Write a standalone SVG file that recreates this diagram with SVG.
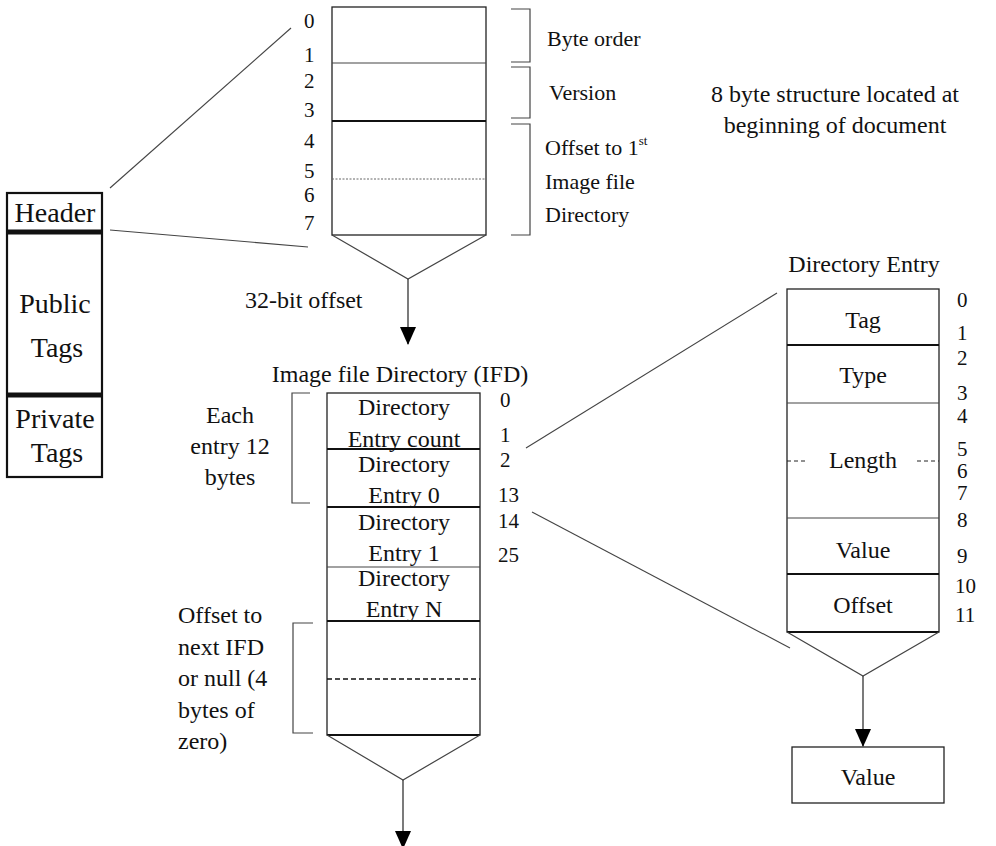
<svg xmlns="http://www.w3.org/2000/svg" width="996" height="846" viewBox="0 0 996 846" font-family="'Liberation Serif', 'DejaVu Serif', serif">
<style>
svg text{font-family:"Liberation Serif","DejaVu Serif",serif;fill:#111}
.b{font-size:24px}
.d{font-size:21px}
.h{font-size:22px}
.L{font-size:28px}
.m{text-anchor:middle}
.box{fill:#fff;stroke:#222;stroke-width:1.3}
.thin{stroke:#444;stroke-width:1.2;fill:none}
.thick{stroke:#111;stroke-width:2.2;fill:none}
.conn{stroke:#444;stroke-width:1.1;fill:none}
.brk{stroke:#444;stroke-width:1.2;fill:none}
</style>
<defs>
<marker id="ah" markerUnits="userSpaceOnUse" markerWidth="18" markerHeight="22" refX="17" refY="8" orient="auto">
<path d="M0,0 L18,8 L0,16 Z" fill="#000"/>
</marker>
</defs>

<g id="file-layout">
<rect x="7" y="193" width="95" height="284" fill="#fff" stroke="#111" stroke-width="2.2"/>
<line x1="7" y1="232" x2="102" y2="232" stroke="#111" stroke-width="5"/>
<line x1="7" y1="395" x2="102" y2="395" stroke="#111" stroke-width="5"/>
<text class="L m" x="55" y="222">Header</text>
<text class="L m" x="55" y="313">Public</text>
<text class="L m" x="57" y="357">Tags</text>
<text class="L m" x="55" y="428">Private</text>
<text class="L m" x="57" y="462">Tags</text>
</g>

<g id="header-structure">
<rect class="box" x="332" y="7" width="154" height="228"/>
<line class="thin" x1="332" y1="63" x2="486" y2="63"/>
<line class="thick" x1="332" y1="121" x2="486" y2="121"/>
<line x1="332" y1="179" x2="486" y2="179" stroke="#666" stroke-width="1" stroke-dasharray="2,1.5"/>
<polyline class="thin" points="332,235 408,279 486,235"/>
<g class="d">
<text x="304" y="28">0</text>
<text x="304" y="62">1</text>
<text x="304" y="88">2</text>
<text x="304" y="117">3</text>
<text x="304" y="148">4</text>
<text x="304" y="178">5</text>
<text x="304" y="202">6</text>
<text x="304" y="230">7</text>
</g>
<polyline class="brk" points="511,9 530,9 530,62 511,62"/>
<polyline class="brk" points="511,67 530,67 530,118 511,118"/>
<polyline class="brk" points="511,124 530,124 530,235 511,235"/>
<text class="h" x="547" y="46">Byte order</text>
<text class="h" x="549" y="100">Version</text>
<text class="h" x="545" y="155">Offset to 1<tspan font-size="13" dy="-10">st</tspan></text>
<text class="h" x="545" y="189">Image file</text>
<text class="h" x="545" y="222">Directory</text>
</g>

<g id="note">
<text class="b m" x="835" y="102">8 byte structure located at</text>
<text class="b m" x="835" y="133">beginning of document</text>
</g>

<g id="offset-label">
<text class="b" x="245" y="308">32-bit offset</text>
</g>

<g id="ifd">
<text class="b m" x="400" y="382">Image file Directory (IFD)</text>
<rect class="box" x="327" y="393" width="153" height="342"/>
<line class="thick" x1="327" y1="449" x2="480" y2="449"/>
<line class="thick" x1="327" y1="507" x2="480" y2="507"/>
<line class="thin" x1="327" y1="567" x2="480" y2="567"/>
<line class="thick" x1="327" y1="621" x2="480" y2="621"/>
<line x1="327" y1="679" x2="480" y2="679" stroke="#111" stroke-width="1.5" stroke-dasharray="5,3"/>
<line class="thick" x1="327" y1="735" x2="480" y2="735"/>
<polyline class="thin" points="327,735 403,780 480,735"/>
<g class="b m">
<text x="404" y="415">Directory</text>
<text x="404" y="447">Entry count</text>
<text x="404" y="472">Directory</text>
<text x="404" y="503">Entry 0</text>
<text x="404" y="530">Directory</text>
<text x="404" y="561">Entry 1</text>
<text x="404" y="586">Directory</text>
<text x="404" y="617">Entry N</text>
</g>
<g class="d">
<text x="500" y="407">0</text>
<text x="500" y="442">1</text>
<text x="500" y="467">2</text>
<text x="498" y="502">13</text>
<text x="498" y="528">14</text>
<text x="498" y="562">25</text>
</g>
<polyline class="brk" points="310,393 292,393 292,503 310,503"/>
<text class="b m" x="230" y="423">Each</text>
<text class="b m" x="230" y="454">entry 12</text>
<text class="b m" x="230" y="485">bytes</text>
<polyline class="brk" points="313,623 293,623 293,733 313,733"/>
<text class="b" x="178" y="623">Offset to</text>
<text class="b" x="178" y="655">next IFD</text>
<text class="b" x="178" y="686">or null (4</text>
<text class="b" x="178" y="718">bytes of</text>
<text class="b" x="178" y="749">zero)</text>
</g>

<g id="directory-entry">
<text class="b m" x="864" y="272">Directory Entry</text>
<rect class="box" x="787" y="289" width="152" height="343"/>
<line class="thick" x1="787" y1="345" x2="939" y2="345"/>
<line class="thin" x1="787" y1="403" x2="939" y2="403"/>
<line class="thin" x1="787" y1="518" x2="939" y2="518"/>
<line class="thick" x1="787" y1="574" x2="939" y2="574"/>
<line class="thick" x1="787" y1="632" x2="939" y2="632"/>
<line x1="787" y1="461" x2="806" y2="461" stroke="#222" stroke-width="1" stroke-dasharray="4,3"/>
<line x1="917" y1="461" x2="939" y2="461" stroke="#222" stroke-width="1" stroke-dasharray="4,3"/>
<polyline class="thin" points="787,632 863,676 939,632"/>
<g class="b m">
<text x="863" y="328">Tag</text>
<text x="863" y="383">Type</text>
<text x="863" y="468">Length</text>
<text x="863" y="558">Value</text>
<text x="863" y="613">Offset</text>
</g>
<g class="d">
<text x="957" y="307">0</text>
<text x="957" y="340">1</text>
<text x="957" y="365">2</text>
<text x="957" y="400">3</text>
<text x="957" y="423">4</text>
<text x="957" y="456">5</text>
<text x="957" y="478">6</text>
<text x="957" y="500">7</text>
<text x="957" y="527">8</text>
<text x="957" y="563">9</text>
<text x="955" y="593">10</text>
<text x="955" y="622">11</text>
</g>
</g>

<g id="value">
<rect class="box" x="792" y="747" width="152" height="56"/>
<text class="b m" x="868" y="785">Value</text>
</g>

<g id="connectors">
<line class="conn" x1="110" y1="188" x2="291" y2="28"/>
<line class="conn" x1="110" y1="230" x2="308" y2="247"/>
<line class="conn" x1="526" y1="448" x2="777" y2="293"/>
<line class="conn" x1="532" y1="512" x2="790" y2="648"/>
<line x1="408" y1="279" x2="408" y2="344" stroke="#333" stroke-width="1.3" marker-end="url(#ah)"/>
<line x1="403" y1="780" x2="403" y2="848" stroke="#333" stroke-width="1.3" marker-end="url(#ah)"/>
<line x1="863" y1="676" x2="863" y2="746" stroke="#333" stroke-width="1.3" marker-end="url(#ah)"/>
</g>
</svg>
